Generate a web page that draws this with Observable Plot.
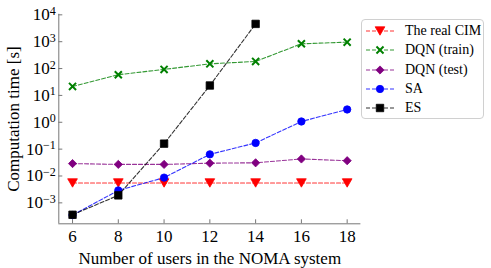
<!DOCTYPE html>
<html><head><meta charset="utf-8">
<script src="https://cdn.jsdelivr.net/npm/d3@7"></script>
<script src="https://cdn.jsdelivr.net/npm/@observablehq/plot@0.6"></script>
<style>
body{margin:0;background:#fff}
#wrap{position:relative;width:491px;height:268px;font-family:"Liberation Serif",serif}
.legend{position:absolute;left:361px;top:19px;width:123px;height:100px;box-sizing:border-box;border:1px solid #d0d0d0;border-radius:4px;background:#fff;padding-top:1px}
.row{position:absolute;left:4px;height:19px;display:flex;align-items:center;font-family:"Liberation Serif",serif;font-size:14px;color:#000;white-space:nowrap}
.row svg{margin-right:11px}
</style></head><body><div id="wrap"></div>
<script>
const users = [6, 8, 10, 12, 14, 16, 18];
const usersES = [6, 8, 10, 12, 14];
const realCIM = [0.0055, 0.0055, 0.0055, 0.0055, 0.0055, 0.0055, 0.0055];
const dqnTrain = [21.6, 59, 93, 150, 184, 835, 960];
const dqnTest = [0.029, 0.027, 0.027, 0.030, 0.031, 0.043, 0.037];
const saTime = [0.00035, 0.0029, 0.0087, 0.064, 0.17, 1.07, 3.0];
const esTime = [0.00036, 0.0019, 0.16, 23.4, 4600];
const seriesNames = ["The real CIM", "DQN (train)", "DQN (test)", "SA", "ES"];
const xTicks = [6, 8, 10, 12, 14, 16, 18];
const yTicks = [1e-3, 1e-2, 1e-1, 1e0, 1e1, 1e2, 1e3, 1e4];

const xDomain = [5.4, 18.6];
const yDomain = [10 ** -3.78, 10 ** 4.02];

const triDown = {
  draw(ctx, size) {
    const a = Math.sqrt(4 * size / Math.sqrt(3));
    const h = a * Math.sqrt(3) / 2;
    ctx.moveTo(-a / 2, -h / 2);
    ctx.lineTo(a / 2, -h / 2);
    ctx.lineTo(0, h / 2);
    ctx.closePath();
  }
};

const styles = [
  {name: seriesNames[0], x: users, y: realCIM, color: "#ff0000", symbol: triDown, r: 3.6, sw: 0.8},
  {name: seriesNames[1], x: users, y: dqnTrain, color: "#008000", symbol: "times", r: 3.3, sw: 2},
  {name: seriesNames[2], x: users, y: dqnTest, color: "#800080", symbol: "diamond2", r: 3.7, sw: 0.8},
  {name: seriesNames[3], x: users, y: saTime, color: "#0000ff", symbol: "circle", r: 3.7, sw: 0.8},
  {name: seriesNames[4], x: usersES, y: esTime, color: "#000000", symbol: "square", r: 4.2, sw: 0.8}
];

const marks = [];
for (const s of styles) {
  const data = s.x.map((x, i) => ({x, y: s.y[i]}));
  marks.push(Plot.line(data, {x: "x", y: "y", stroke: s.color, strokeWidth: 1.1, strokeDasharray: "4,2", opacity: 0.8}));
  marks.push(Plot.dot(data, {x: "x", y: "y", symbol: s.symbol, r: s.r, fill: s.color, stroke: s.color, strokeWidth: s.sw}));
}

const chart = Plot.plot({
  width: 491,
  height: 268,
  marginTop: 13.8,
  marginBottom: 44.7,
  marginLeft: 58.3,
  marginRight: 130.6,
  style: {fontFamily: "Liberation Serif, serif", fontSize: "17px", color: "#000", background: "#fff", overflow: "visible"},
  x: {domain: xDomain},
  y: {type: "log", domain: yDomain},
  marks: [
    Plot.axisX({ticks: xTicks, tickSize: -4, tickPadding: 10, stroke: "#777", tickFormat: d => String(d),
      label: "Number of users in the NOMA system", labelAnchor: "center", labelOffset: 40, labelArrow: "none", fill: "#000"}),
    Plot.axisY({ticks: yTicks, tickSize: -4, tickPadding: 7, stroke: "#777", tickFormat: d => String(Math.round(Math.log10(d))),
      label: "Computation time [s]", labelAnchor: "center", labelOffset: 52, labelArrow: "none", fill: "#000"}),
    Plot.ruleX([xDomain[0]], {stroke: "#777"}),
    Plot.ruleY([yDomain[0]], {stroke: "#777"}),
    ...marks
  ]
});

// superscript exponents on y tick labels
d3.select(chart).selectAll('g[aria-label="y-axis tick label"] text').each(function() {
  const t = d3.select(this);
  const e = t.text().replace("-", "\u2212").replace("−", "\u2212");
  t.text(null);
  t.append("tspan").text("10");
  t.append("tspan").attr("dy", "-0.45em").attr("font-size", "12px").text(e);
});

const wrap = document.getElementById("wrap");
wrap.appendChild(chart);

const legend = document.createElement("div");
legend.className = "legend";
const rowTops = [1.5, 20.8, 40.5, 59.8, 78.8];
styles.forEach((s, i) => {
  const row = document.createElement("div");
  row.className = "row";
  row.style.top = rowTops[i] + "px";
  const svg = d3.create("svg").attr("width", 28).attr("height", 12);
  svg.append("line").attr("x1", 0).attr("x2", 28).attr("y1", 6).attr("y2", 6)
    .attr("stroke", s.color).attr("stroke-width", 1.1).attr("stroke-dasharray", "4,2").attr("opacity", 0.8);
  const sym = typeof s.symbol === "string" ? {times: d3.symbolTimes, diamond2: d3.symbolDiamond2, circle: d3.symbolCircle, square: d3.symbolSquare}[s.symbol] : s.symbol;
  svg.append("path").attr("transform", "translate(14,6)").attr("d", d3.symbol(sym, s.r * s.r * Math.PI)())
    .attr("fill", s.color).attr("stroke", s.color).attr("stroke-width", s.sw);
  row.appendChild(svg.node());
  const span = document.createElement("span");
  span.textContent = s.name;
  row.appendChild(span);
  legend.appendChild(row);
});
wrap.appendChild(legend);
</script></body></html>
